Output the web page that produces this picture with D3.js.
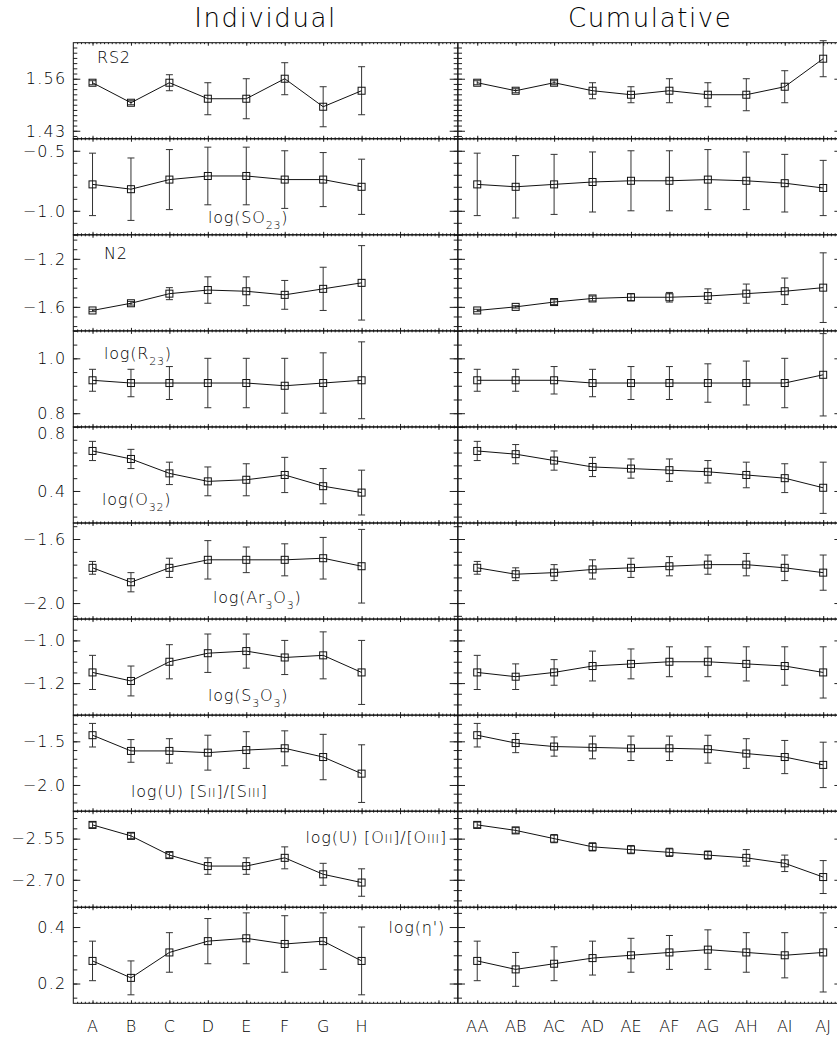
<!doctype html>
<html>
<head>
  <meta charset="UTF-8">
  <script src="https://d3js.org/d3.v7.min.js"></script>
  <style>
    body { margin: 0; background: #fff; }
    svg text { font-family: "DejaVu Sans", sans-serif; font-weight: 200; fill: #000; }
  </style>
</head>
<body>
<svg width="837" height="1038"></svg>
<script>

// categories
var catsInd = ["A", "B", "C", "D", "E", "F", "G", "H"];
var catsCum = ["AA", "AB", "AC", "AD", "AE", "AF", "AG", "AH", "AI", "AJ"];

// panel y axes (top to bottom)
var yDomains = [[1.41, 1.65], [-1.2, -0.4], [-1.8, -1.0], [0.75, 1.1], [0.2, 0.8],
                [-2.1, -1.5], [-1.35, -0.9], [-2.3, -1.2], [-2.8, -2.45], [0.13, 0.47]];
var yMajor = [[1.43, 1.56], [-1.0, -0.5], [-1.6, -1.2], [0.8, 1.0], [0.4, 0.8],
              [-2.0, -1.6], [-1.2, -1.0], [-2.0, -1.5], [-2.70, -2.55], [0.2, 0.4]];
var yTickLabels = [["1.43", "1.56"], ["\u22121.0", "\u22120.5"], ["\u22121.6", "\u22121.2"], ["0.8", "1.0"], ["0.4", "0.8"],
                   ["\u22122.0", "\u22121.6"], ["\u22121.2", "\u22121.0"], ["\u22122.0", "\u22121.5"], ["\u22122.70", "\u22122.55"], ["0.2", "0.4"]];
var yMinorStep = [0.013, 0.1, 0.08, 0.05, 0.08, 0.08, 0.05, 0.1, 0.0375, 0.05];

// RS2
var rs2Ind    = [1.55, 1.50, 1.55, 1.51, 1.51, 1.56, 1.49, 1.53];
var rs2IndErr = [0.005, 0.005, 0.02, 0.04, 0.05, 0.04, 0.05, 0.06];
var rs2Cum    = [1.55, 1.53, 1.55, 1.53, 1.52, 1.53, 1.52, 1.52, 1.54, 1.61];
var rs2CumErr = [0.005, 0.005, 0.005, 0.02, 0.02, 0.03, 0.03, 0.04, 0.04, 0.045];
// log(SO23)
var so23Ind    = [-0.78, -0.82, -0.74, -0.71, -0.71, -0.74, -0.74, -0.80];
var so23IndErr = [0.26, 0.26, 0.25, 0.24, 0.24, 0.24, 0.225, 0.23];
var so23Cum    = [-0.78, -0.80, -0.78, -0.76, -0.75, -0.75, -0.74, -0.75, -0.77, -0.81];
var so23CumErr = [0.26, 0.26, 0.25, 0.25, 0.25, 0.25, 0.25, 0.24, 0.24, 0.23];
// N2
var n2Ind    = [-1.63, -1.57, -1.49, -1.46, -1.47, -1.50, -1.45, -1.40];
var n2IndErr = [0.01, 0.015, 0.05, 0.11, 0.12, 0.12, 0.18, 0.31];
var n2Cum    = [-1.63, -1.60, -1.56, -1.53, -1.52, -1.52, -1.51, -1.49, -1.47, -1.44];
var n2CumErr = [0.01, 0.01, 0.02, 0.02, 0.03, 0.04, 0.06, 0.08, 0.11, 0.29];
// log(R23)
var r23Ind    = [0.92, 0.91, 0.91, 0.91, 0.91, 0.90, 0.91, 0.92];
var r23IndErr = [0.04, 0.05, 0.06, 0.09, 0.09, 0.10, 0.11, 0.14];
var r23Cum    = [0.92, 0.92, 0.92, 0.91, 0.91, 0.91, 0.91, 0.91, 0.91, 0.94];
var r23CumErr = [0.04, 0.04, 0.05, 0.05, 0.06, 0.06, 0.07, 0.08, 0.09, 0.15];
// log(O32)
var o32Ind    = [0.65, 0.60, 0.51, 0.46, 0.47, 0.50, 0.43, 0.39];
var o32IndErr = [0.06, 0.06, 0.07, 0.09, 0.10, 0.11, 0.11, 0.14];
var o32Cum    = [0.65, 0.63, 0.59, 0.55, 0.54, 0.53, 0.52, 0.50, 0.48, 0.42];
var o32CumErr = [0.06, 0.06, 0.06, 0.06, 0.06, 0.07, 0.07, 0.08, 0.09, 0.16];
// log(Ar3O3)
var ar3Ind    = [-1.78, -1.87, -1.78, -1.73, -1.73, -1.73, -1.72, -1.77];
var ar3IndErr = [0.04, 0.06, 0.06, 0.12, 0.08, 0.10, 0.13, 0.23];
var ar3Cum    = [-1.78, -1.82, -1.81, -1.79, -1.78, -1.77, -1.76, -1.76, -1.78, -1.81];
var ar3CumErr = [0.04, 0.04, 0.05, 0.06, 0.06, 0.06, 0.06, 0.07, 0.08, 0.11];
// log(S3O3)
var s3Ind    = [-1.15, -1.19, -1.10, -1.06, -1.05, -1.08, -1.07, -1.15];
var s3IndErr = [0.08, 0.07, 0.08, 0.09, 0.08, 0.08, 0.11, 0.15];
var s3Cum    = [-1.15, -1.17, -1.15, -1.12, -1.11, -1.10, -1.10, -1.11, -1.12, -1.15];
var s3CumErr = [0.08, 0.06, 0.06, 0.07, 0.07, 0.07, 0.07, 0.08, 0.09, 0.12];
// log(U) [SII]/[SIII]
var uSInd    = [-1.43, -1.61, -1.61, -1.63, -1.60, -1.58, -1.68, -1.87];
var uSIndErr = [0.135, 0.13, 0.14, 0.20, 0.21, 0.20, 0.26, 0.33];
var uSCum    = [-1.43, -1.52, -1.56, -1.57, -1.58, -1.58, -1.59, -1.64, -1.68, -1.77];
var uSCumErr = [0.135, 0.11, 0.11, 0.13, 0.14, 0.14, 0.16, 0.17, 0.19, 0.26];
// log(U) [OII]/[OIII]
var uOInd    = [-2.50, -2.54, -2.61, -2.65, -2.65, -2.62, -2.68, -2.71];
var uOIndErr = [0.01, 0.01, 0.01, 0.03, 0.03, 0.04, 0.04, 0.05];
var uOCum    = [-2.50, -2.52, -2.55, -2.58, -2.59, -2.60, -2.61, -2.62, -2.64, -2.69];
var uOCumErr = [0.01, 0.01, 0.015, 0.015, 0.015, 0.015, 0.015, 0.03, 0.03, 0.06];
// log(eta')
var etaInd    = [0.28, 0.22, 0.31, 0.35, 0.36, 0.34, 0.35, 0.28];
var etaIndErr = [0.07, 0.06, 0.07, 0.08, 0.09, 0.10, 0.10, 0.12];
var etaCum    = [0.28, 0.25, 0.27, 0.29, 0.30, 0.31, 0.32, 0.31, 0.30, 0.31];
var etaCumErr = [0.07, 0.06, 0.06, 0.06, 0.06, 0.06, 0.07, 0.07, 0.08, 0.14];

// panel label texts as pieces: 0 normal, 1 subscript, 2 small
var panelLabels = [
  [["RS2", 0]],
  [["log(SO", 0], ["23", 1], [")", 0]],
  [["N2", 0]],
  [["log(R", 0], ["23", 1], [")", 0]],
  [["log(O", 0], ["32", 1], [")", 0]],
  [["log(Ar", 0], ["3", 1], ["O", 0], ["3", 1], [")", 0]],
  [["log(S", 0], ["3", 1], ["O", 0], ["3", 1], [")", 0]],
  [["log(U)  [S", 0], ["II", 2], ["]/[S", 0], ["III", 2], ["]", 0]],
  [["log(U)  [O", 0], ["II", 2], ["]/[O", 0], ["III", 2], ["]", 0]],
  [["log(\u03b7')", 0]]
];

var series = [
  {ind: rs2Ind, indErr: rs2IndErr, cum: rs2Cum, cumErr: rs2CumErr},
  {ind: so23Ind, indErr: so23IndErr, cum: so23Cum, cumErr: so23CumErr},
  {ind: n2Ind, indErr: n2IndErr, cum: n2Cum, cumErr: n2CumErr},
  {ind: r23Ind, indErr: r23IndErr, cum: r23Cum, cumErr: r23CumErr},
  {ind: o32Ind, indErr: o32IndErr, cum: o32Cum, cumErr: o32CumErr},
  {ind: ar3Ind, indErr: ar3IndErr, cum: ar3Cum, cumErr: ar3CumErr},
  {ind: s3Ind, indErr: s3IndErr, cum: s3Cum, cumErr: s3CumErr},
  {ind: uSInd, indErr: uSIndErr, cum: uSCum, cumErr: uSCumErr},
  {ind: uOInd, indErr: uOIndErr, cum: uOCum, cumErr: uOCumErr},
  {ind: etaInd, indErr: etaIndErr, cum: etaCum, cumErr: etaCumErr}
];

var svg = d3.select("svg");
var top0 = 42.7, panelH = 96.06;

// where each panel label sits: x, y offset from panel top, anchor
var labelPos = [
  [97, 20.5, "start"], [208, 84, "start"], [104, 24.5, "start"], [104, 28, "start"], [102, 78, "start"],
  [213, 80, "start"], [208, 82, "start"], [131, 82, "start"], [447, 32, "end"], [445, 26, "end"]
];

var cols = [
  {x0: 73.3, x1: 457.7, cats: catsInd, title: "Individual", key: "ind"},
  {x0: 458, x1: 842.4, cats: catsCum, title: "Cumulative", key: "cum"}
];

function minorTicks(p) {
  var dom = yDomains[p], step = yMinorStep[p], base = yMajor[p][0];
  var out = [];
  var lo = Math.ceil((dom[0] - base) / step - 1e-6), hi = Math.floor((dom[1] - base) / step + 1e-6);
  for (var k = lo; k <= hi; k++) out.push(base + k * step);
  return out;
}

cols.forEach(function(c, ci) {
  var x = d3.scaleLinear().domain([0.5, 10.5]).range([c.x0, c.x1]);
  var xMajor = d3.range(1, 11);
  var xMinor = d3.range(6, 105).map(function(d) { return d / 10; });

  svg.append("text")
    .attr("x", (c.x0 + c.x1) / 2).attr("y", 27)
    .attr("text-anchor", "middle")
    .style("font-size", "26px")
    .style("letter-spacing", "1.6px")
    .text(c.title);

  for (var p = 0; p < 10; p++) {
    var yTop = top0 + p * panelH, yBot = yTop + panelH;
    var y = d3.scaleLinear().domain(yDomains[p]).range([yBot, yTop]);
    var g = svg.append("g");

    // y ticks, left & right, pointing inward
    var axes = [
      g.append("g").attr("transform", "translate(" + c.x0 + ",0)").call(d3.axisRight(y).tickValues(yMajor[p]).tickSize(7).tickFormat("")),
      g.append("g").attr("transform", "translate(" + c.x0 + ",0)").call(d3.axisRight(y).tickValues(minorTicks(p)).tickSize(4).tickFormat("")),
      g.append("g").attr("transform", "translate(" + c.x1 + ",0)").call(d3.axisLeft(y).tickValues(yMajor[p]).tickSize(8).tickFormat("")),
      g.append("g").attr("transform", "translate(" + c.x1 + ",0)").call(d3.axisLeft(y).tickValues(minorTicks(p)).tickSize(4).tickFormat("")),
      // x ticks, top & bottom
      g.append("g").attr("transform", "translate(0," + yTop + ")").call(d3.axisBottom(x).tickValues(xMajor).tickSize(3).tickFormat("")),
      g.append("g").attr("transform", "translate(0," + yTop + ")").call(d3.axisBottom(x).tickValues(xMinor).tickSize(1.5).tickFormat("")),
      g.append("g").attr("transform", "translate(0," + yBot + ")").call(d3.axisTop(x).tickValues(xMajor).tickSize(3).tickFormat("")),
      g.append("g").attr("transform", "translate(0," + yBot + ")").call(d3.axisTop(x).tickValues(xMinor).tickSize(1.5).tickFormat(""))
    ];
    axes.forEach(function(a) {
      a.select(".domain").remove();
      a.selectAll("line").attr("stroke", "#222");
    });

    g.append("rect")
      .attr("x", c.x0).attr("y", yTop)
      .attr("width", c.x1 - c.x0).attr("height", panelH)
      .attr("fill", "none").attr("stroke", "#111").attr("stroke-width", 1);

    if (ci === 0) {
      // tick labels, kept inside the panel's height when a tick sits on the top edge
      var labs = yTickLabels[p];
      g.append("g").selectAll("text").data(yMajor[p]).enter().append("text")
        .attr("x", c.x0 - 7)
        .attr("y", function(d) { return Math.max(y(d), yTop + 6); })
        .attr("dy", "0.36em")
        .attr("text-anchor", "end")
        .style("font-size", "16px")
        .style("letter-spacing", "1.2px")
        .text(function(d, i) { return labs[i]; });

      // panel label
      var lp = labelPos[p];
      var t = g.append("text")
        .attr("x", lp[0]).attr("y", yTop + lp[1])
        .attr("text-anchor", lp[2])
        .style("font-size", "16px")
        .style("letter-spacing", "0.8px");
      var shift = 0;
      panelLabels[p].forEach(function(piece) {
        var ts = t.append("tspan").text(piece[0]);
        var want = piece[1] === 1 ? 6 : 0;
        if (want !== shift) { ts.attr("dy", want - shift); shift = want; }
        if (piece[1] === 1) ts.style("font-size", "11px");
        if (piece[1] === 2) ts.style("font-size", "12px");
      });
    }

    // data
    var vals = series[p][c.key], errs = series[p][c.key + "Err"];
    var pts = vals.map(function(v, i) { return {x: i + 1, v: v, e: errs[i]}; });

    var bars = g.append("g").selectAll("g").data(pts).enter().append("g");
    bars.append("line")
      .attr("x1", function(d) { return x(d.x); }).attr("x2", function(d) { return x(d.x); })
      .attr("y1", function(d) { return y(d.v - d.e); }).attr("y2", function(d) { return y(d.v + d.e); })
      .attr("stroke", "#333").attr("stroke-width", 1);
    [-1, 1].forEach(function(s) {
      bars.append("line")
        .attr("x1", function(d) { return x(d.x) - 3.5; }).attr("x2", function(d) { return x(d.x) + 3.5; })
        .attr("y1", function(d) { return y(d.v + s * d.e); }).attr("y2", function(d) { return y(d.v + s * d.e); })
        .attr("stroke", "#333").attr("stroke-width", 1);
    });

    g.append("path").datum(pts)
      .attr("fill", "none").attr("stroke", "#111").attr("stroke-width", 1)
      .attr("d", d3.line().x(function(d) { return x(d.x); }).y(function(d) { return y(d.v); }));

    g.append("g").selectAll("rect").data(pts).enter().append("rect")
      .attr("x", function(d) { return x(d.x) - 3.5; })
      .attr("y", function(d) { return y(d.v) - 3.5; })
      .attr("width", 7).attr("height", 7)
      .attr("fill", "none").attr("stroke", "#111").attr("stroke-width", 1);
  }

  // category labels under the last panel
  svg.append("g").selectAll("text").data(c.cats).enter().append("text")
    .attr("x", function(d, i) { return x(i + 1); })
    .attr("y", 1032)
    .attr("text-anchor", "middle")
    .style("font-size", "16px")
    .text(function(d) { return d; });
});
</script>
</body>
</html>
